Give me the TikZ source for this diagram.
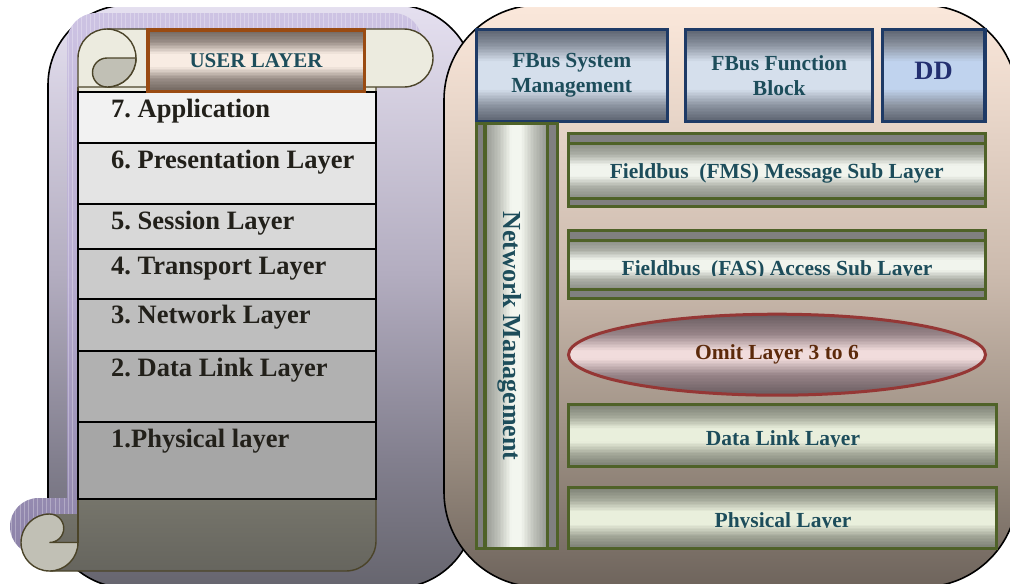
\documentclass[tikz,border=0pt]{standalone}
\usepackage{fontspec}
\setmainfont{Liberation Serif}
\usetikzlibrary{shapes.geometric}

% panel backgrounds
\definecolor{lbA}{HTML}{66656E}
\definecolor{lbB}{HTML}{827F8E}
\definecolor{lbC}{HTML}{B3ADC0}
\definecolor{lbD}{HTML}{E5E0F0}
\definecolor{rbA}{HTML}{6E645C}
\definecolor{rbB}{HTML}{978A7E}
\definecolor{rbC}{HTML}{CCBBAE}
\definecolor{rbD}{HTML}{FBE8DB}
% scroll
\definecolor{shA}{HTML}{8C82A8}
\definecolor{shB}{HTML}{B6ABCF}
\definecolor{shC}{HTML}{CDC3E3}
\definecolor{scrollline}{HTML}{4B4429}
\definecolor{rollcream}{HTML}{ECEBDF}
\definecolor{curlgray}{HTML}{C1C0B5}
\definecolor{bdA}{HTML}{66655E}
\definecolor{bdB}{HTML}{77766C}
\definecolor{bdC}{HTML}{A9A8A0}
\definecolor{rowA}{HTML}{F2F2F2}
\definecolor{rowB}{HTML}{E4E4E4}
\definecolor{rowC}{HTML}{D8D8D8}
\definecolor{rowD}{HTML}{CBCBCB}
\definecolor{rowE}{HTML}{BEBEBE}
\definecolor{rowF}{HTML}{B1B1B1}
\definecolor{rowG}{HTML}{A6A6A6}
\definecolor{ositext}{HTML}{22201A}
% user layer bar
\definecolor{usA}{HTML}{70665F}
\definecolor{usB}{HTML}{9A8E87}
\definecolor{usC}{HTML}{F8ECE3}
\definecolor{userborder}{HTML}{9A4B12}
% fieldbus stack
\definecolor{navy}{HTML}{1E3A66}
\definecolor{fbA}{HTML}{5C6370}
\definecolor{fbB}{HTML}{8C94A1}
\definecolor{fbC}{HTML}{D5DFEC}
\definecolor{ddC}{HTML}{C0D3EE}
\definecolor{olive}{HTML}{4F6228}
\definecolor{stripgray}{HTML}{808080}
\definecolor{gbA}{HTML}{8A8D85}
\definecolor{gbB}{HTML}{ABAEA5}
\definecolor{gbC}{HTML}{F1F4ED}
\definecolor{gxA}{HTML}{7B7F73}
\definecolor{gxB}{HTML}{A3A798}
\definecolor{gxC}{HTML}{E9EFDC}
\definecolor{elA}{HTML}{675A5E}
\definecolor{elB}{HTML}{978488}
\definecolor{elC}{HTML}{F1DCDC}
\definecolor{elborder}{HTML}{953735}
\definecolor{coA}{HTML}{939690}
\definecolor{coB}{HTML}{C0C3BB}
\definecolor{coC}{HTML}{F3F6EF}
\definecolor{teal}{HTML}{1D4D5B}
\definecolor{ddtext}{HTML}{232F70}
\definecolor{omittext}{HTML}{5C2A0B}

\pgfdeclareverticalshading{leftbg}{100bp}{color(0bp)=(lbA); color(25bp)=(lbA); color(36bp)=(lbB); color(52bp)=(lbC); color(75bp)=(lbD); color(100bp)=(lbD)}
\pgfdeclareverticalshading{rightbg}{100bp}{color(0bp)=(rbA); color(25bp)=(rbA); color(36bp)=(rbB); color(52bp)=(rbC); color(75bp)=(rbD); color(100bp)=(rbD)}
\pgfdeclareverticalshading{shadowsh}{100bp}{color(0bp)=(shA); color(25bp)=(shA); color(50bp)=(shB); color(75bp)=(shC); color(100bp)=(shC)}
\pgfdeclareverticalshading{bodysh}{100bp}{color(0bp)=(bdA); color(25bp)=(bdA); color(33bp)=(bdB); color(50bp)=(bdC); color(74bp)=(rollcream); color(100bp)=(rollcream)}

% outline of the whole scroll (roll, sheet and bottom curl)
\newcommand\scrolloutline{(78,58) arc[start angle=180,end angle=270,radius=29] -- (404,29) arc[start angle=270,end angle=450,radius=29] -- (376,87) -- (376,541) arc[start angle=0,end angle=90,radius=30] -- (49.5,571) arc[start angle=90,end angle=270,radius=28.5] -- (78,514) -- cycle}

% tube-like fill of the rectangle (#1,#2)-(#3,#4), built from thin strips:
% rim colour #5 at both edges, #6 at relative depth #8, light colour #7
% from relative depth #9 to the middle
\newcommand\vtube[9]{%
  \pgfmathtruncatemacro\tbn{ceil((#4-#2)/1.5)}%
  \foreach \k in {1,...,\tbn}{%
    \pgfmathsetmacro\tbya{#2+(#4-#2)*(\k-1)/\tbn}%
    \pgfmathsetmacro\tbyb{#2+(#4-#2)*\k/\tbn+0.5}%
    \pgfmathsetmacro\tbf{(\k-0.5)/\tbn}%
    \pgfmathsetmacro\tbd{2*min(\tbf,1-\tbf)}%
    \pgfmathsetmacro\tbp{min(100,100*\tbd/#8)}%
    \pgfmathsetmacro\tbq{max(0,min(100,100*(\tbd-#8)/(#9-#8)))}%
    \colorlet{tbmix}{#6!\tbp!#5}%
    \colorlet{tbcol}{#7!\tbq!tbmix}%
    \fill[tbcol] (#1,\tbya) rectangle (#3,\tbyb);
  }}
\newcommand\htube[9]{%
  \pgfmathtruncatemacro\tbn{ceil((#3-#1)/1.5)}%
  \foreach \k in {1,...,\tbn}{%
    \pgfmathsetmacro\tbxa{#1+(#3-#1)*(\k-1)/\tbn}%
    \pgfmathsetmacro\tbxb{#1+(#3-#1)*\k/\tbn+0.5}%
    \pgfmathsetmacro\tbf{(\k-0.5)/\tbn}%
    \pgfmathsetmacro\tbd{2*min(\tbf,1-\tbf)}%
    \pgfmathsetmacro\tbp{min(100,100*\tbd/#8)}%
    \pgfmathsetmacro\tbq{max(0,min(100,100*(\tbd-#8)/(#9-#8)))}%
    \colorlet{tbmix}{#6!\tbp!#5}%
    \colorlet{tbcol}{#7!\tbq!tbmix}%
    \fill[tbcol] (\tbxa,#2) rectangle (\tbxb,#4);
  }}

\newcommand\osifont{\fontsize{26.5}{30}\selectfont\bfseries}
\newcommand\fbfont{\fontsize{21.5}{25}\selectfont\bfseries}
\frenchspacing

\begin{document}
\begin{tikzpicture}[x=1pt,y=-1pt,
  scrollstroke/.style={draw=scrollline,line width=1.4pt},
  osirow/.style={draw=black,line width=1.8pt},
  ositext/.style={anchor=base west,inner sep=0pt,text=ositext,font=\osifont},
  navybox/.style={draw=navy,line width=3.4pt,rectangle,inner sep=0pt,
    text=teal,font=\fbfont,align=center,minimum height=91.6pt},
  olivestroke/.style={draw=olive,line width=3.2pt},
  fbtext/.style={anchor=base,inner sep=0pt,text=teal,font=\fbfont}]
\useasboundingbox (0,0) rectangle (1010,584);
\begin{scope}
\clip (0,7) rectangle (1010,584);

% ---------- left panel: OSI reference model ----------
\path[draw=black,line width=1.6pt,shade,shading=leftbg,rounded corners=80pt]
  (48,5) rectangle (475,588);

% lavender shadow of the scroll
\begin{scope}[shift={(-11,-16)}]
  \path[shade,shading=shadowsh] \scrolloutline;
  \begin{scope}
    \clip \scrolloutline;
    \draw[white,opacity=0.28,line width=0.5pt,step=4.4] (0,0) grid (460,600);
  \end{scope}
\end{scope}

% sheet of the scroll
\path[shade,shading=bodysh] (78,87) -- (376,87) -- (376,541)
  arc[start angle=0,end angle=90,radius=30] -- (49.5,571) -- (49.5,514) -- (78,514) -- cycle;
\draw[scrollstroke] (78,87) -- (78,542.5);
\draw[scrollstroke] (49.5,571) -- (346,571) arc[start angle=90,end angle=0,radius=30] -- (376,87);

% the seven layers
\path[osirow,fill=rowA] (78,92) rectangle (376,143);
\path[osirow,fill=rowB] (78,143) rectangle (376,204);
\path[osirow,fill=rowC] (78,204) rectangle (376,249);
\path[osirow,fill=rowD] (78,249) rectangle (376,299);
\path[osirow,fill=rowE] (78,299) rectangle (376,351);
\path[osirow,fill=rowF] (78,351) rectangle (376,422);
\path[osirow,fill=rowG] (78,422) rectangle (376,499);
\node[ositext] (l7) at (111,117.5) {7. Application};
\node[ositext] (l6) at (111,168.5) {6. Presentation Layer};
\node[ositext] (l5) at (111,229.5) {5. Session Layer};
\node[ositext] (l4) at (111,274.5) {4. Transport Layer};
\node[ositext] (l3) at (111,323.5) {3. Network Layer};
\node[ositext] (l2) at (111,376) {2. Data Link Layer};
\node[ositext] (l1) at (111,447) {1.Physical layer};

% top roll with its curl
\draw[scrollstroke,fill=rollcream] (78,87) -- (78,58)
  arc[start angle=180,end angle=270,radius=29] -- (404,29)
  arc[start angle=270,end angle=450,radius=29] -- cycle;
\draw[scrollstroke] (107,29) arc[start angle=270,end angle=450,radius=29];
\draw[scrollstroke,fill=curlgray] (107,58) -- (136,58)
  arc[start angle=0,end angle=90,radius=29]
  arc[start angle=90,end angle=270,radius=14.5] -- cycle;

% bottom curl
\draw[scrollstroke,fill=curlgray] (49.5,514)
  arc[start angle=-90,end angle=90,radius=14.25] -- (78,542.5)
  arc[start angle=0,end angle=270,radius=28.5] -- cycle;

% user layer bar
\vtube{147.75}{29.75}{364.25}{91.25}{usA}{usB}{usC}{0.4}{0.8}
\node[draw=userborder,line width=3.5pt,inner sep=0pt,
  minimum width=216.5pt,minimum height=61.5pt,text=teal,
  font=\fontsize{21}{24}\selectfont\bfseries] (user) at (256,60.5)
  {\raisebox{-3.2pt}{USER LAYER}};

% ---------- right panel: fieldbus model ----------
\path[draw=black,line width=1.6pt,shade,shading=rightbg,rounded corners=95pt]
  (444,5) rectangle (1017.5,587);

\vtube{476.25}{29.7}{667.25}{121.3}{fbA}{fbB}{fbC}{0.35}{0.7}
\vtube{685.75}{29.7}{872.75}{121.3}{fbA}{fbB}{fbC}{0.35}{0.7}
\vtube{882.2}{29.7}{984.8}{121.3}{fbA}{fbB}{ddC}{0.35}{0.7}
\node[navybox,minimum width=191pt] (fsm) at (571.75,75.5) {FBus System\\Management};
\node[navybox,minimum width=187pt] (ffb) at (779.25,75.5) {FBus Function\\Block};
\node[navybox,minimum width=102.6pt,text=ddtext,
  font=\fontsize{26.5}{30}\selectfont\bfseries] (dd) at (933.5,75.5)
  {\raisebox{8.5pt}{DD}};

% network management column
\path[olivestroke,fill=stripgray] (476.6,123.6) rectangle (557.4,548.4);
\htube{485}{123.6}{547.6}{548.4}{coA}{coB}{coC}{0.45}{0.85}
\draw[olivestroke] (485,123.6) rectangle (547.6,548.4);
\node[anchor=base,rotate=-90,inner sep=0pt,text=teal,
  font=\fontsize{26}{30}\selectfont\bfseries] (nm) at (503,336) {Network Management};

% message sub layer
\path[olivestroke,fill=stripgray] (568.6,133.6) rectangle (985.4,206.4);
\vtube{568.6}{143.3}{985.4}{198.3}{gbA}{gbB}{gbC}{0.4}{0.8}
\draw[olivestroke] (568.6,143.3) rectangle (985.4,198.3);
\node[fbtext] (fms) at (776.7,178.3) {Fieldbus\enspace(FMS) Message Sub Layer};

% access sub layer
\path[olivestroke,fill=stripgray] (568.6,230.6) rectangle (985.4,298.4);
\vtube{568.6}{240.5}{985.4}{289.5}{gbA}{gbB}{gbC}{0.4}{0.8}
\draw[olivestroke] (568.6,240.5) rectangle (985.4,289.5);
\begin{scope}
  \clip (560,230) rectangle (990,275.6);
  \node[fbtext] (fas) at (777,275) {Fieldbus\enspace(FAS) Access Sub Layer};
\end{scope}

% layers 3 to 6 left out
\begin{scope}
  \clip (777,354.7) ellipse [x radius=208.5, y radius=40.5];
  \vtube{568}{314}{986}{395.5}{elA}{elB}{elC}{0.5}{0.9}
\end{scope}
\node[ellipse,draw=elborder,line width=3pt,inner sep=0pt,
  minimum width=417pt,minimum height=81pt,text=omittext,font=\fbfont]
  (omit) at (777,354.7) {Omit Layer 3 to 6};

% data link and physical layers
\vtube{568.6}{404.3}{996.4}{466.4}{gxA}{gxB}{gxC}{0.4}{0.8}
\draw[olivestroke] (568.6,404.3) rectangle (996.4,466.4);
\begin{scope}
  \clip (560,400) rectangle (1000,446.2);
  \node[fbtext] (dll) at (783,445.7) {Data Link Layer};
\end{scope}
\vtube{568.6}{487.3}{996.4}{548.4}{gxA}{gxB}{gxC}{0.4}{0.8}
\draw[olivestroke] (568.6,487.3) rectangle (996.4,548.4);
\begin{scope}
  \clip (560,480) rectangle (1000,527.8);
  \node[fbtext] (phl) at (783,527.3) {Physical Layer};
\end{scope}
\end{scope}
\end{tikzpicture}
\end{document}
